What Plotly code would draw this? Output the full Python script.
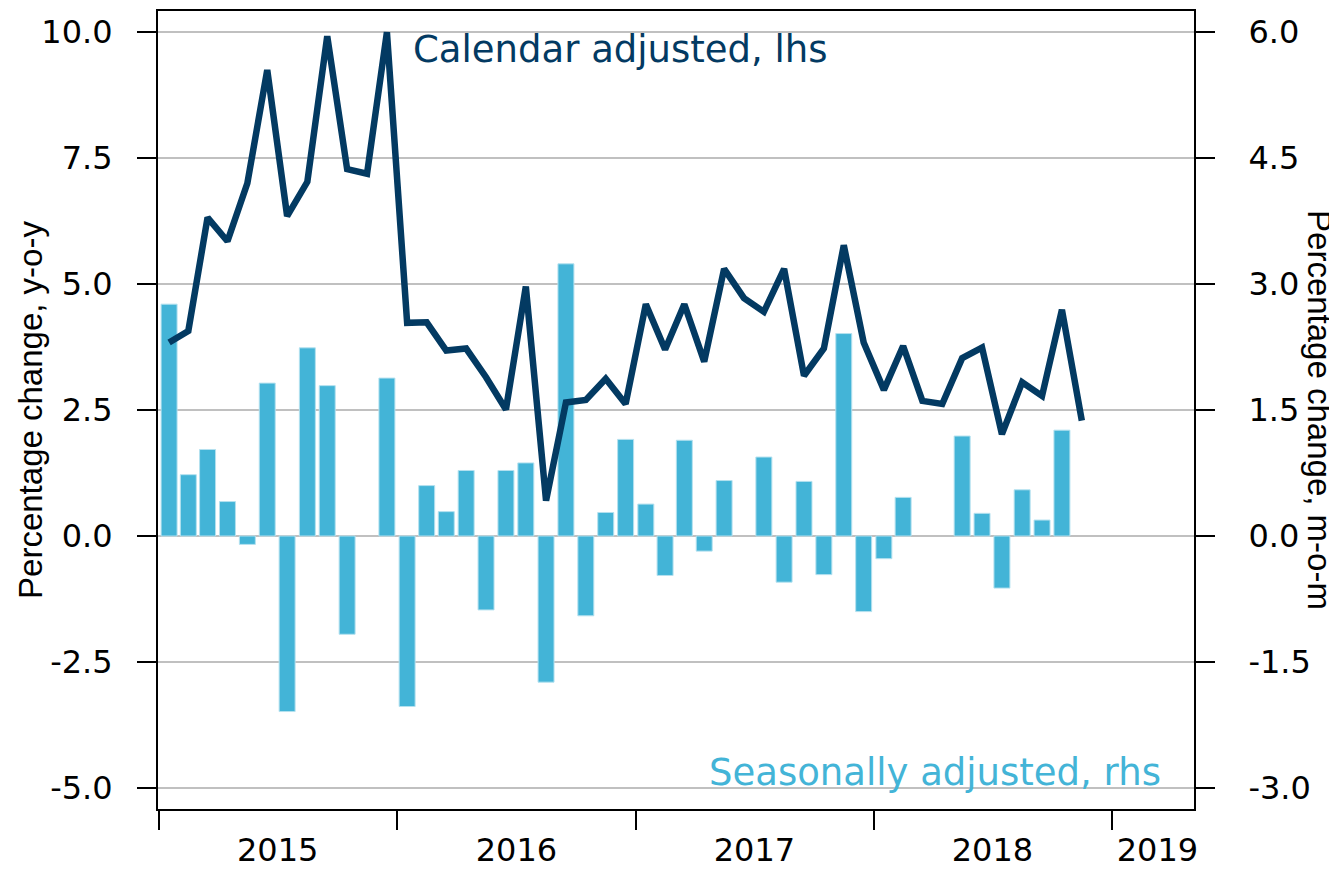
import pandas as pd
import plotly.graph_objects as go

# monthly observations, Jan 2015 - Nov 2018
months = pd.date_range("2015-01-01", periods=47, freq="MS")

# calendar adjusted, % y-o-y (lhs)
calendar_adj = [
    3.84, 4.07, 6.32, 5.85, 7.00, 9.25, 6.35, 7.03, 9.92, 7.28, 7.19, 10.0,
    4.23, 4.24, 3.68, 3.72, 3.15, 2.51, 4.95, 0.70, 2.65, 2.70, 3.12, 2.62,
    4.60, 3.70, 4.60, 3.46, 5.30, 4.72, 4.45, 5.30, 3.18, 3.72, 5.77, 3.84,
    2.90, 3.77, 2.68, 2.62, 3.53, 3.74, 2.02, 3.05, 2.78, 4.49, 2.29,
]

# seasonally adjusted, % m-o-m (rhs)
seasonal_adj = [
    2.76, 0.73, 1.03, 0.41, -0.10, 1.82, -2.09, 2.24, 1.79, -1.17, None, 1.88,
    -2.03, 0.60, 0.29, 0.78, -0.88, 0.78, 0.87, -1.74, 3.24, -0.95, 0.28, 1.15,
    0.38, -0.47, 1.14, -0.18, 0.66, None, 0.94, -0.55, 0.65, -0.46, 2.41, -0.90,
    -0.27, 0.46, None, None, 1.19, 0.27, -0.62, 0.55, 0.19, 1.26, None,
]

years = ["2015", "2016", "2017", "2018", "2019"]
year_label_pos = ["2015-07-02", "2016-07-02", "2017-07-02", "2018-07-02", "2019-03-12"]

lhs_ticks = [-5.0, -2.5, 0.0, 2.5, 5.0, 7.5, 10.0]
rhs_ticks = [-3.0, -1.5, 0.0, 1.5, 3.0, 4.5, 6.0]

NAVY = "#033a62"
CYAN = "#43b4d7"
TICK_FONT = "DejaVu Sans, sans-serif"
TITLE_FONT = "Liberation Sans, Arial, sans-serif"

fig = go.Figure()

fig.add_trace(go.Bar(
    x=months, y=seasonal_adj,
    xperiod="M1", xperiodalignment="middle",
    width=24.5 * 86400000,
    marker=dict(color=CYAN, line=dict(color="#b4e1ef", width=1)),
    yaxis="y", name="Seasonally adjusted, rhs",
))

fig.add_trace(go.Scatter(
    x=months, y=calendar_adj,
    xperiod="M1", xperiodalignment="middle",
    mode="lines", line=dict(color=NAVY, width=6.5),
    yaxis="y2", name="Calendar adjusted, lhs",
))

axis_common = dict(
    showline=True, linecolor="black", linewidth=2,
    ticks="outside", ticklen=19, tickwidth=2, tickcolor="black",
    tickfont=dict(family=TICK_FONT, size=32, color="black"),
    zeroline=False, automargin=False,
)

# page body adds an 8px offset, so the margins are trimmed by that much
fig.update_layout(
    width=1337, height=869,
    margin=dict(l=150, r=151, t=3, b=68),
    paper_bgcolor="white", plot_bgcolor="white",
    showlegend=False,
    font=dict(family=TICK_FONT, color="black"),
    xaxis=dict(
        type="date", automargin=False,
        range=["2014-12-30 12:00", "2019-05-07"],
        showline=True, linecolor="black", linewidth=2, mirror=True,
        tickmode="array", tickvals=year_label_pos, ticktext=years,
        ticks="outside", ticklen=12, tickcolor="rgba(0,0,0,0)",
        tickfont=dict(family=TICK_FONT, size=32, color="black"),
        showgrid=False, zeroline=False,
        minor=dict(ticks="outside", dtick="M12", tick0="2015-01-01",
                   ticklen=19, tickwidth=2, tickcolor="black", showgrid=False),
    ),
    yaxis=dict(
        side="right", range=[-3.25, 6.25],
        tickmode="array", tickvals=rhs_ticks,
        ticktext=[f"{v:.1f}" for v in rhs_ticks],
        ticklabelstandoff=27,
        showgrid=True, gridcolor="#c0c0c0", gridwidth=2,
        **axis_common,
    ),
    yaxis2=dict(
        side="left", overlaying="y", range=[-5.42, 10.42],
        tickmode="array", tickvals=lhs_ticks,
        ticktext=[f"{v:.1f}" for v in lhs_ticks],
        ticklabelstandoff=18,
        showgrid=False,
        **axis_common,
    ),
    annotations=[
        dict(text="Calendar adjusted, lhs", xref="paper", yref="paper",
             x=0.244, y=0.952, xanchor="left", yanchor="middle", showarrow=False,
             font=dict(family=TICK_FONT, size=37, color=NAVY)),
        dict(text="Seasonally adjusted, rhs", xref="paper", yref="paper",
             x=0.970, y=0.046, xanchor="right", yanchor="middle", showarrow=False,
             font=dict(family=TICK_FONT, size=37, color=CYAN)),
        dict(text="Percentage change, y-o-y", xref="paper", yref="paper",
             x=-0.1236, y=0.5, xanchor="center", yanchor="middle", textangle=-90,
             showarrow=False, font=dict(family=TITLE_FONT, size=33, color="black")),
        dict(text="Percentage change, m-o-m", xref="paper", yref="paper",
             x=1.1216, y=0.5, xanchor="center", yanchor="middle", textangle=90,
             showarrow=False, font=dict(family=TITLE_FONT, size=33, color="black")),
    ],
)

fig.write_html("out.html")
